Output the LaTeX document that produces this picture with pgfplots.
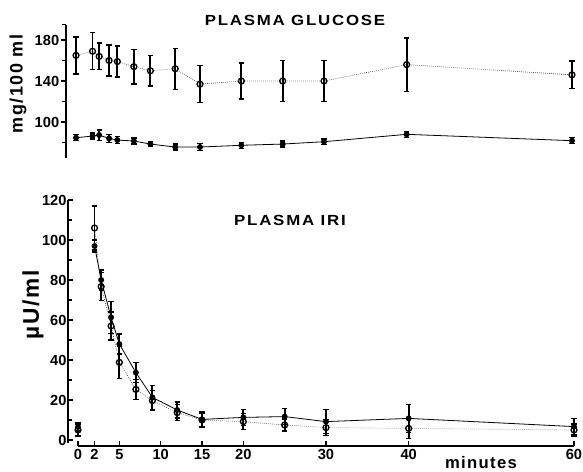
\documentclass[border=0pt]{standalone}
\usepackage{fontspec}
\setmainfont{Liberation Sans}
\newfontfamily\titlefont{Liberation Sans}[FakeStretch=1.15,LetterSpace=12]
\newfontfamily\labfont{Liberation Sans}[LetterSpace=8]
\usepackage{pgfplots}
\pgfplotsset{compat=1.18}
\usepackage{pgfplotstable}

\pgfplotstableread{
t v e
0 165 18
2 169 18
2.8 164 13
4 160 15
5 159 15
7 154 17
9 150 15
12 152 20
15 137 18
20 140 17.5
25 140 20
30 140 20
40 156 26
60 146 13.5
}\gluopen
\pgfplotstableread{
t v e
0 84.7 3
2 86.3 3
2.8 87.3 5
4 84 4
5 82.4 3.5
7 81.5 3
9 78.5 2.5
12 75.6 3
15 75.6 3.5
20 77.3 3
25 78.5 3
30 80.8 2.5
40 88 3
60 81.8 3
}\glufill
\pgfplotstableread{
t v e
2 106 11
2.8 76.7 7
4 57 7
5 38.8 8
7 25.3 5
9 19.7 5
12 13.7 4
15 10 3.5
20 9.2 4
25 7.5 3
30 6.2 4
40 5.8 5
60 5 3
}\iriopen
\pgfplotstableread{
t v e
2 97 3
2.8 80 5
4 61.3 8
5 48 5
7 33.7 5
9 21.3 6
12 15 4
15 10.3 4
20 11.3 4
25 11.7 4
30 9.2 6
40 10.8 7
60 6.7 4
}\irifill
\pgfplotstableread{
t v e
0 5 3
}\iriopenzero
\pgfplotstableread{
t v e
0 6.5 2
}\irifillzero

\pgfplotsset{
  common/.style={
    scale only axis, width=385.6pt, clip=false,
    xmin=-1.2, xmax=61,
    axis line style={draw=none},
    tick style={black, line width=0.9pt},
    major tick length=4pt, minor tick length=3pt,
    /pgf/number format/assume math mode=true,
    tick label style={font=\fontsize{11}{13}\selectfont\bfseries},
    yticklabel style={inner sep=1pt},
  },
  openser/.style={black!75, densely dotted, line width=0.5pt, mark=o,
    mark size=2.2pt, mark options={black, solid, line width=1pt, fill=white},
    error bars/.cd, y dir=both, y explicit,
    error bar style={black, line width=1.4pt, solid},
    error mark options={black, rotate=90, mark size=2pt, line width=1pt, solid},
    /pgfplots/.cd},
  fillser/.style={black, solid, line width=0.6pt, mark=*,
    mark size=1.9pt, mark options={solid},
    error bars/.cd, y dir=both, y explicit,
    error bar style={line width=1.4pt, solid},
    error mark options={rotate=90, mark size=2pt, line width=1pt, solid},
    /pgfplots/.cd},
}

\begin{document}
\begin{tikzpicture}
\path[use as bounding box] (0,0) rectangle (437.25pt,354pt);

% top panel
\begin{axis}[common, at={(49.58pt,234.8pt)}, anchor=south west,
  height=101.5pt, ymin=64, ymax=196,
  axis x line=none, axis y line*=left,
  ytick={100,140,180}, minor ytick={80,120,160,195},
  ytick align=outside]
\draw[line width=1.2pt] (axis cs:-1.2,65) -- (axis cs:-1.2,195);
\addplot[openser] table[x=t, y=v, y error=e] {\gluopen};
\addplot[fillser] table[x=t, y=v, y error=e] {\glufill};
\end{axis}

% bottom panel
\begin{axis}[common, at={(51.08pt,19.5pt)}, anchor=south west,
  height=186pt, ymin=-3, ymax=121,
  axis x line*=bottom, axis y line*=left,
  xtick={0,2,5,10,15,20,30,40,60},
  ytick={0,20,...,120}, minor ytick={10,30,...,110},
  tick align=inside,
  xticklabel style={inner sep=1pt, yshift=-1pt}]
\draw[line width=1.2pt] (axis cs:-1.2,-1.5) -- (axis cs:-1.2,120);
\draw[line width=1.2pt] (axis cs:0,-3) -- (axis cs:60,-3);
\addplot[openser] table[x=t, y=v, y error=e] {\iriopen};
\addplot[fillser] table[x=t, y=v, y error=e] {\irifill};
\addplot[only marks, openser] table[x=t, y=v, y error=e] {\iriopenzero};
\addplot[only marks, fillser] table[x=t, y=v, y error=e] {\irifillzero};
\end{axis}

\node[font=\titlefont\bfseries\fontsize{11}{13}\selectfont] at (221.25pt,339pt) {PLASMA GLUCOSE};
\node[font=\titlefont\bfseries\fontsize{11}{13}\selectfont] at (217.5pt,189pt) {PLASMA IRI};
\node[font=\labfont\bfseries\fontsize{12.5}{14}\selectfont] at (360.75pt,6.75pt) {minutes};
\node[font=\labfont\bfseries\fontsize{13.5}{15}\selectfont, rotate=90] at (13.5pt,291pt) {mg/100 ml};
\node[font=\labfont\bfseries\fontsize{17}{19}\selectfont, rotate=90] at (24.75pt,125.25pt) {µU/ml};
\end{tikzpicture}
\end{document}
